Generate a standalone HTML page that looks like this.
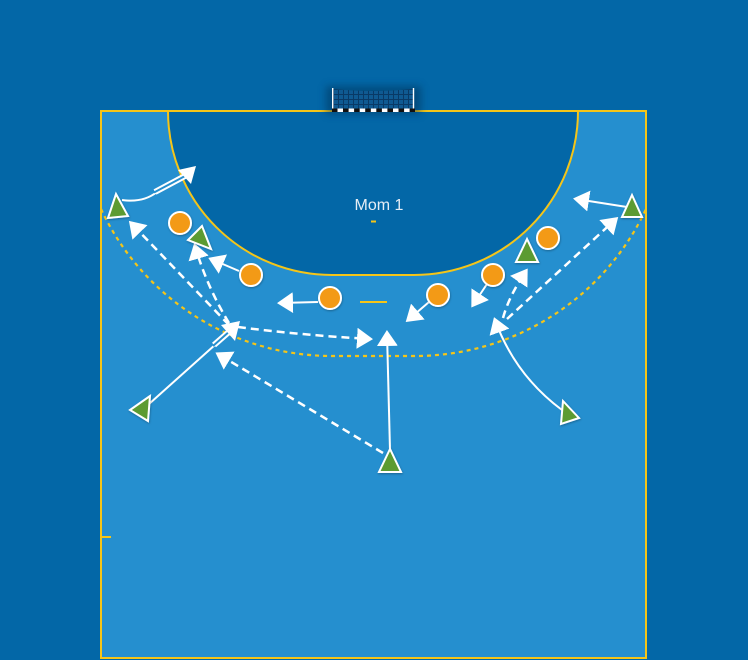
<!DOCTYPE html>
<html>
<head>
<meta charset="utf-8">
<style>
html,body{margin:0;padding:0;background:#0367a7;}
svg{display:block;}
</style>
</head>
<body>
<svg width="748" height="660" viewBox="0 0 748 660" xmlns="http://www.w3.org/2000/svg">
<defs>
  <marker id="ah" markerUnits="userSpaceOnUse" viewBox="0 0 16 21" refX="13" refY="10.5" markerWidth="16" markerHeight="21" orient="auto">
    <path d="M0,0 L16,10.5 L0,21 Z" fill="#ffffff"/>
  </marker>
  <clipPath id="court"><rect x="101" y="111" width="545" height="547"/></clipPath>
  <filter id="sh" x="-30%" y="-30%" width="160%" height="160%">
    <feDropShadow dx="0.5" dy="1" stdDeviation="1" flood-color="#000" flood-opacity="0.3"/>
  </filter>
  <filter id="gs" x="-50%" y="-100%" width="200%" height="300%">
    <feGaussianBlur stdDeviation="4"/>
  </filter>
  <pattern id="np" width="5" height="5" patternUnits="userSpaceOnUse" x="333" y="89">
    <rect width="5" height="5" fill="#0f5a92"/>
    <path d="M0,0.5 H5 M0.5,0 V5" stroke="#093a66" stroke-width="1"/>
  </pattern>
</defs>

<!-- background -->
<rect width="748" height="660" fill="#0367a7"/>

<!-- court -->
<rect x="101" y="111" width="545" height="547" fill="#258fcf" stroke="#f5c518" stroke-width="2"/>

<!-- goal area (6m) -->
<path d="M168,111 A164,164 0 0,0 332,275 L414,275 A164,164 0 0,0 578,111 Z" fill="#0367a7" stroke="#f5c518" stroke-width="2"/>

<!-- 9m dashed line -->
<g clip-path="url(#court)">
  <path d="M101,209 A255,255 0 0,0 332,356 L415,356 A255,255 0 0,0 646,209" fill="none" stroke="#f5c518" stroke-width="2.2" stroke-dasharray="4 4"/>
</g>

<!-- marks -->
<line x1="360" y1="302" x2="387" y2="302" stroke="#f5c518" stroke-width="2"/>
<line x1="371" y1="221.5" x2="376" y2="221.5" stroke="#f5c518" stroke-width="2"/>
<line x1="101" y1="537" x2="111" y2="537" stroke="#f5c518" stroke-width="2"/>

<!-- goal -->
<rect x="326" y="86" width="95" height="28" fill="#02345c" opacity="0.55" filter="url(#gs)"/>
<path d="M333,89 Q373,93 413,89 L413,109 L333,109 Z" fill="url(#np)"/>
<line x1="332.7" y1="88" x2="332.7" y2="111" stroke="#ffffff" stroke-width="1.4"/>
<line x1="413.5" y1="88" x2="413.5" y2="111" stroke="#ffffff" stroke-width="1.4"/>
<g>
  <rect x="332" y="108.5" width="83" height="3.5" fill="#111"/>
  <rect x="337.5" y="108.5" width="5.5" height="3.5" fill="#fff"/>
  <rect x="348.6" y="108.5" width="5.5" height="3.5" fill="#fff"/>
  <rect x="359.7" y="108.5" width="5.5" height="3.5" fill="#fff"/>
  <rect x="370.8" y="108.5" width="5.5" height="3.5" fill="#fff"/>
  <rect x="381.9" y="108.5" width="5.5" height="3.5" fill="#fff"/>
  <rect x="393.0" y="108.5" width="5.5" height="3.5" fill="#fff"/>
  <rect x="404.1" y="108.5" width="5.5" height="3.5" fill="#fff"/>
</g>

<!-- label -->
<text x="379" y="210" font-family="Liberation Sans, Arial, sans-serif" font-size="16" fill="#e6eef6" text-anchor="middle">Mom 1</text>

<!-- arrows -->
<g fill="none" stroke="#ffffff" stroke-width="2">
  <path d="M122,200 Q143,203 157,192"/>
  <path d="M149,404 L216,344"/>
  <path d="M239,271 L211,259" marker-end="url(#ah)"/>
  <path d="M318,302 L280,303" marker-end="url(#ah)"/>
  <path d="M390,450 L387,333" marker-end="url(#ah)"/>
  <path d="M429,302 L408,320" marker-end="url(#ah)"/>
  <path d="M487,284 L473,305" marker-end="url(#ah)"/>
  <path d="M562,410 Q515,375 495,320" marker-end="url(#ah)"/>
  <path d="M627,207 L576,199" marker-end="url(#ah)"/>
</g>

<!-- double line segments -->
<g fill="none">
  <path d="M155,192 L185,176" stroke="#ffffff" stroke-width="6"/>
  <path d="M154,192.5 L186,175.5" stroke="#258fcf" stroke-width="2"/>
  <path d="M214,345 L230,331" stroke="#ffffff" stroke-width="6"/>
  <path d="M213,346 L231,330" stroke="#258fcf" stroke-width="2"/>
</g>
<polygon points="196,166 178,170 191,184" fill="#ffffff"/>
<polygon points="240,321 221,325 235,341" fill="#ffffff"/>

<!-- dashed passes -->
<g fill="none" stroke="#ffffff" stroke-width="2.5" stroke-dasharray="8 5">
  <path d="M229,325 L131,223" marker-end="url(#ah)"/>
  <path d="M229,323 Q207,287 195,246" marker-end="url(#ah)"/>
  <path d="M238,327 Q300,335 370,339" marker-end="url(#ah)"/>
  <path d="M383,453 L218,354" marker-end="url(#ah)"/>
  <path d="M503,318 Q509,296 526,271" marker-end="url(#ah)"/>
  <path d="M507,319 L616,219" marker-end="url(#ah)"/>
</g>

<!-- defenders -->
<g fill="#f39a12" stroke="#ffffff" stroke-width="2" filter="url(#sh)">
  <circle cx="180" cy="223" r="11"/>
  <circle cx="251" cy="275" r="11"/>
  <circle cx="330" cy="298" r="11"/>
  <circle cx="438" cy="295" r="11"/>
  <circle cx="493" cy="275" r="11"/>
  <circle cx="548" cy="238" r="11"/>
</g>

<!-- attackers -->
<g fill="#5b9b30" stroke="#ffffff" stroke-width="2" stroke-linejoin="miter" filter="url(#sh)">
  <polygon points="116,194 108,218 128,216"/>
  <polygon points="202,226 188,240 211,249"/>
  <polygon points="150,396 130,410 148,421"/>
  <polygon points="390,449 379,472 401,472"/>
  <polygon points="527,239 516,262 538,262"/>
  <polygon points="563,401 579,418 561,424"/>
  <polygon points="632,195 622,217 642,217"/>
</g>
</svg>
</body>
</html>
